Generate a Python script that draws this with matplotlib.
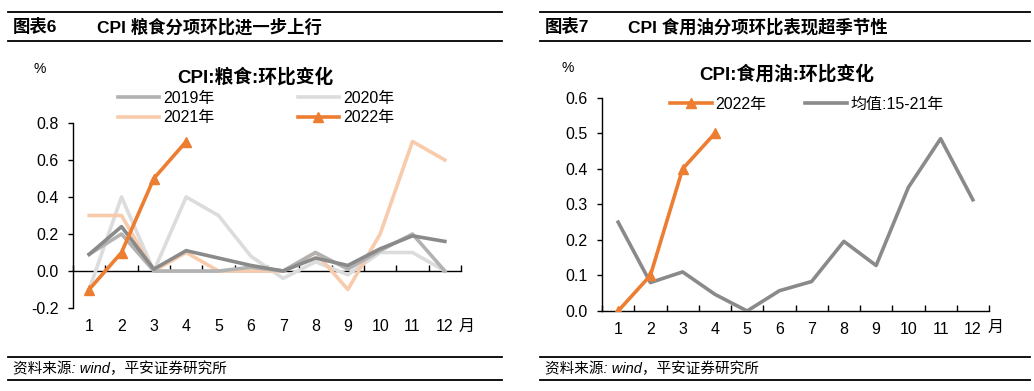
import matplotlib
matplotlib.use("Agg")
import matplotlib.pyplot as plt
from matplotlib.lines import Line2D
import numpy as np

plt.rcParams['font.family'] = ['Liberation Sans', 'Noto Sans CJK SC', 'DejaVu Sans']
plt.rcParams['axes.unicode_minus'] = False

# ---------------- data ----------------
months = [str(m) for m in range(1, 13)]

grain_2019 = [0.09, 0.2, 0.0, 0.0, 0.0, 0.02, 0.0, 0.1, 0.01, 0.11, 0.2, 0.0]
grain_2020 = [-0.1, 0.4, 0.0, 0.4, 0.3, 0.08, -0.04, 0.05, -0.02, 0.1, 0.1, 0.0]
grain_2021 = [0.3, 0.3, 0.0, 0.1, 0.0, 0.0, 0.0, 0.1, -0.1, 0.2, 0.7, 0.6]
grain_2022 = [-0.1, 0.1, 0.5, 0.7]
grain_avg = [0.09, 0.24, 0.01, 0.11, 0.07, 0.03, 0.0, 0.07, 0.03, 0.12, 0.19, 0.16]

oil_2022 = [0.0, 0.1, 0.4, 0.5]
oil_avg = [0.25, 0.08, 0.11, 0.047, 0.0, 0.057, 0.083, 0.196, 0.128, 0.348, 0.485, 0.313]

left_yticks = [-0.2, 0.0, 0.2, 0.4, 0.6, 0.8]
right_yticks = [0.0, 0.1, 0.2, 0.3, 0.4, 0.5, 0.6]

C_2019 = '#B2B2B2'
C_2020 = '#DCDCDC'
C_2021 = '#F8CBAD'
C_2022 = '#ED7D31'
C_AVG = '#8A8A8A'

W, H = 1034, 391
fig = plt.figure(figsize=(W / 100, H / 100), dpi=100)


def fx(px):
    return px / W


def fy(py):
    return 1 - py / H


def hline(y, x0, x1, lw=1.3):
    fig.add_artist(Line2D([fx(x0), fx(x1)], [fy(y), fy(y)], color='black', lw=lw,
                          transform=fig.transFigure))


def style_axes(ax, yticks, fmt):
    n = len(months)
    x = np.arange(1, n + 1)
    ax.set_xlim(0.5, n + 0.5)
    ax.set_ylim(yticks[0], yticks[-1])
    ax.set_yticks(yticks)
    ax.set_yticklabels([fmt.format(v) for v in yticks])
    ax.set_xticks(x)
    ax.set_xticklabels(months)
    for s in ['top', 'right', 'bottom']:
        ax.spines[s].set_visible(False)
    ax.spines['left'].set_linewidth(1.0)
    ax.tick_params(axis='x', length=0, pad=8, labelsize=11.5)
    ax.tick_params(axis='y', direction='out', length=3.5, width=1.0, pad=7, labelsize=11.5)
    # zero axis line with boundary ticks pointing up
    frac = (0 - yticks[0]) / (yticks[-1] - yticks[0])
    sec = ax.secondary_xaxis(frac)
    sec.set_xticks(np.arange(0.5, n + 1, 1.0))
    sec.tick_params(axis='x', direction='in', length=4, width=1.0, labelbottom=False,
                    labeltop=False)
    sec.spines['bottom'].set_linewidth(1.0)
    sec.spines['bottom'].set_color('black')
    ax.set_facecolor('none')
    return x


# ---------------- left chart ----------------
axL = fig.add_axes([fx(73), fy(308), fx(461 - 73), (308 - 123) / H])
x = style_axes(axL, left_yticks, '{:.1f}')
lw = 2.6
axL.plot(x, grain_2020, color=C_2020, lw=lw, label='2020年', zorder=2)
axL.plot(x, grain_2021, color=C_2021, lw=lw, label='2021年', zorder=3)
axL.plot(x, grain_2019, color=C_2019, lw=lw, label='2019年', zorder=4)
axL.plot(x, grain_avg, color=C_AVG, lw=lw, zorder=5)
axL.plot(x[:len(grain_2022)], grain_2022, color=C_2022, lw=lw, marker='^', ms=7,
         label='2022年', zorder=6)

h, l = axL.get_legend_handles_labels()
order = ['2019年', '2021年', '2020年', '2022年']  # column-major fill -> rows 2019/2020, 2021/2022
hh = [h[l.index(k)] for k in order]
fig.legend(hh, order, loc='center', bbox_to_anchor=(fx(256), fy(108)), ncol=2,
           frameon=False, fontsize=11.5, handlelength=2.6, handletextpad=0.25,
           columnspacing=5.2, labelspacing=0.3, borderpad=0)

fig.text(fx(255), fy(77), 'CPI:粮食:环比变化', ha='center', va='center',
         fontsize=13.5, fontweight='bold')
fig.text(fx(40), fy(69), '%', ha='center', va='center', fontsize=10)
fig.text(fx(467), fy(326), '月', ha='center', va='center', fontsize=11.5)

# ---------------- right chart ----------------
axR = fig.add_axes([fx(602), fy(311), fx(989 - 602), (311 - 97.8) / H])
x = style_axes(axR, right_yticks, '{:.1f}')
axR.plot(x, oil_avg, color=C_AVG, lw=lw, label='均值:15-21年', zorder=4)
axR.plot(x[:len(oil_2022)], oil_2022, color=C_2022, lw=lw, marker='^', ms=7,
         label='2022年', zorder=6)
h, l = axR.get_legend_handles_labels()
order = ['2022年', '均值:15-21年']
hh = [h[l.index(k)] for k in order]
fig.legend(hh, order, loc='center', bbox_to_anchor=(fx(807), fy(104)), ncol=2,
           frameon=False, fontsize=11.5, handlelength=2.6, handletextpad=0.25,
           columnspacing=2.4, borderpad=0)
fig.text(fx(787), fy(74), 'CPI:食用油:环比变化', ha='center', va='center',
         fontsize=13.5, fontweight='bold')
fig.text(fx(568), fy(68), '%', ha='center', va='center', fontsize=10)
fig.text(fx(996), fy(327), '月', ha='center', va='center', fontsize=11.5)

# ---------------- headers / footers ----------------
for (x0, x1, num, title, tx) in [
        (8, 502, '图表6', 'CPI 粮食分项环比进一步上行', 97),
        (540, 1030, '图表7', 'CPI 食用油分项环比表现超季节性', 628)]:
    hline(12, x0, x1)
    hline(41, x0, x1)
    fig.text(fx(x0 + 5), fy(27), num, ha='left', va='center', fontsize=12.5,
             fontweight='bold')
    fig.text(fx(tx), fy(27), title, ha='left', va='center', fontsize=12.5,
             fontweight='bold')
    hline(357, x0, x1)
    hline(380, x0, x1)
    fig.text(fx(x0 + 5), fy(368.5), '资料来源: wind，平安证券研究所', ha='left',
             va='center', fontsize=10.5, style='italic')

fig.savefig('out.png', dpi=100)
